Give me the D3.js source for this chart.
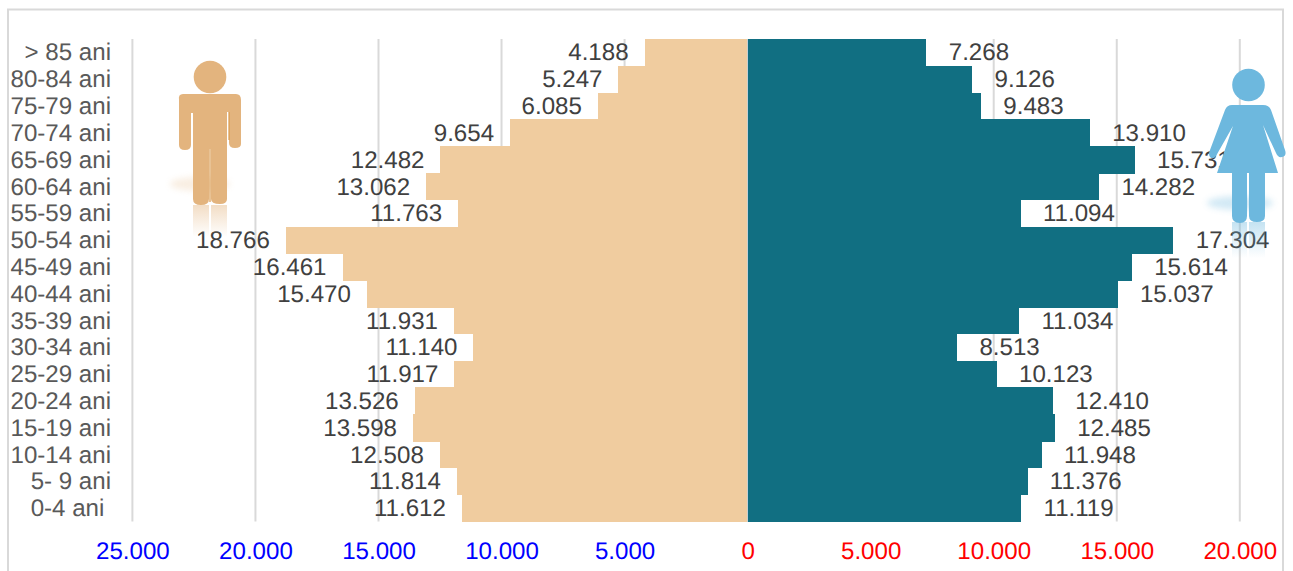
<!DOCTYPE html>
<html>
<head>
<meta charset="utf-8">
<script src="https://cdn.jsdelivr.net/npm/d3@7"></script>
<style>
html, body { margin: 0; padding: 0; background: #fff; overflow: hidden; }
text { font-family: "Liberation Sans", Arial, sans-serif; white-space: pre; text-rendering: geometricPrecision; }
</style>
</head>
<body>
<div id="chart"></div>
<script>
const ageGroups = ["> 85 ani", "80-84 ani", "75-79 ani", "70-74 ani", "65-69 ani", "60-64 ani",
  "55-59 ani", "50-54 ani", "45-49 ani", "40-44 ani", "35-39 ani", "30-34 ani", "25-29 ani",
  "20-24 ani", "15-19 ani", "10-14 ani", "5- 9 ani", "0-4 ani "];
const males = [4188, 5247, 6085, 9654, 12482, 13062, 11763, 18766, 16461, 15470, 11931, 11140,
  11917, 13526, 13598, 12508, 11814, 11612];
const females = [7268, 9126, 9483, 13910, 15731, 14282, 11094, 17304, 15614, 15037, 11034, 8513,
  10123, 12410, 12485, 11948, 11376, 11119];
const xTicks = [-25000, -20000, -15000, -10000, -5000, 0, 5000, 10000, 15000, 20000];

const width = 1293, height = 571;
const fontSize = 24.1;

const fmt = d3.formatLocale({ decimal: ",", thousands: ".", grouping: [3], currency: ["", ""] }).format(",d");

const svg = d3.select("#chart").append("svg")
  .attr("width", width)
  .attr("height", height)
  .style("display", "block");

const defs = svg.append("defs");
defs.append("filter").attr("id", "soft").attr("x", "-30%").attr("y", "-60%").attr("width", "160%").attr("height", "220%")
  .append("feGaussianBlur").attr("stdDeviation", 3);
let fade = (id, colour, op) => {
  const g = defs.append("linearGradient").attr("id", id).attr("x1", 0).attr("y1", 0).attr("x2", 0).attr("y2", 1);
  g.append("stop").attr("offset", 0).attr("stop-color", colour).attr("stop-opacity", op);
  g.append("stop").attr("offset", 1).attr("stop-color", colour).attr("stop-opacity", 0);
};
fade("fadeMan", "#e3b47e", 0.45);
fade("fadeWoman", "#6db8de", 0.4);

// outer frame, bottom edge runs off the picture
svg.append("rect")
  .attr("x", 8).attr("y", 9.5).attr("width", 1275).attr("height", 580)
  .attr("fill", "none").attr("stroke", "#d9d9d9").attr("stroke-width", 2);

const x = d3.scaleLinear().domain([-25000, 20000]).range([132.4, 1239.8]);
const y = d3.scaleBand().domain(ageGroups).range([39, 521.5]).padding(0);

// gridlines
svg.append("g").selectAll("line")
  .data(xTicks)
  .join("line")
  .attr("x1", d => x(d)).attr("x2", d => x(d))
  .attr("y1", 39).attr("y2", 521.5)
  .attr("stroke", "#d9d9d9").attr("stroke-width", 2);

// bars, crisp so neighbouring rows do not show a seam
svg.append("g").attr("shape-rendering", "crispEdges").selectAll("rect")
  .data(males)
  .join("rect")
  .attr("x", d => x(-d))
  .attr("y", (d, i) => y(ageGroups[i]))
  .attr("width", d => x(0) - x(-d))
  .attr("height", y.bandwidth() + 0.5)
  .attr("fill", "#f0cc9f");

svg.append("g").attr("shape-rendering", "crispEdges").selectAll("rect")
  .data(females)
  .join("rect")
  .attr("x", x(0))
  .attr("y", (d, i) => y(ageGroups[i]))
  .attr("width", d => x(d) - x(0))
  .attr("height", y.bandwidth() + 0.5)
  .attr("fill", "#116f82");

// zero line stays visible between the two sides
svg.append("line")
  .attr("x1", x(0)).attr("x2", x(0))
  .attr("y1", 39).attr("y2", 521.5)
  .attr("stroke", "#c9cfd2").attr("stroke-width", 1)
  .attr("shape-rendering", "crispEdges");

// value labels
svg.append("g").selectAll("text")
  .data(males)
  .join("text")
  .attr("x", d => x(-d) - 16)
  .attr("y", (d, i) => y(ageGroups[i]) + y.bandwidth() / 2 - 0.6)
  .attr("dy", "0.36em")
  .attr("text-anchor", "end")
  .attr("font-size", fontSize)
  .attr("fill", "#404040")
  .text(d => fmt(d));

svg.append("g").selectAll("text")
  .data(females)
  .join("text")
  .attr("x", d => x(d) + 22.3)
  .attr("y", (d, i) => y(ageGroups[i]) + y.bandwidth() / 2 - 0.6)
  .attr("dy", "0.36em")
  .attr("text-anchor", "start")
  .attr("font-size", fontSize)
  .attr("fill", "#404040")
  .text(d => fmt(d));

// age axis
const yAxis = svg.append("g")
  .attr("transform", "translate(118,-0.6)")
  .call(d3.axisLeft(y).tickSize(0).tickPadding(7));
yAxis.select(".domain").remove();
yAxis.selectAll("text")
  .attr("font-size", fontSize)
  .attr("fill", "#595959")
  .attr("dy", "0.36em");

// value axis, blue for men and red for women
const xAxis = svg.append("g")
  .attr("transform", "translate(0,550)")
  .call(d3.axisBottom(x).tickValues(xTicks).tickSize(0).tickPadding(0).tickFormat(d => fmt(Math.abs(d))));
xAxis.select(".domain").remove();
xAxis.selectAll("text")
  .attr("font-size", fontSize)
  .attr("y", 0)
  .attr("dy", "0.36em")
  .attr("fill", d => d < 0 ? "#0000ff" : "#ff0000");

// man pictogram
const man = svg.append("g");
man.append("ellipse").attr("cx", 200).attr("cy", 184).attr("rx", 30).attr("ry", 7)
  .attr("fill", "#e3b47e").attr("opacity", 0.22).attr("filter", "url(#soft)");
man.append("rect").attr("x", 193).attr("y", 205).attr("width", 16).attr("height", 32).attr("fill", "url(#fadeMan)");
man.append("rect").attr("x", 211).attr("y", 205).attr("width", 16).attr("height", 32).attr("fill", "url(#fadeMan)");
man.append("circle").attr("cx", 210).attr("cy", 77).attr("r", 16.3).attr("fill", "#e3b47e");
man.append("path")
  .attr("d", "M183,94 H236 Q241,94 241,100 V144 Q241,148 235,148 Q229,148 229,143 V112 H227 V199 Q227,204 220,204 Q211,204 211,199 V149 H209 V199 Q209,205 201,205 Q193,205 193,199 V113 H191 V145 Q191,150 185,150 Q179,150 179,145 V100 Q178,94 183,94 Z")
  .attr("fill", "#e3b47e");
man.append("path").attr("d", "M229,112 V140 M210,149 V202").attr("stroke", "#d99a4e").attr("stroke-width", 1.2).attr("fill", "none");

// woman pictogram, sits over the labels
const woman = svg.append("g");
woman.append("ellipse").attr("cx", 1240).attr("cy", 203).attr("rx", 33).attr("ry", 7)
  .attr("fill", "#6db8de").attr("opacity", 0.3).attr("filter", "url(#soft)");
woman.append("rect").attr("x", 1232).attr("y", 222).attr("width", 15).attr("height", 36).attr("fill", "url(#fadeWoman)");
woman.append("rect").attr("x", 1249).attr("y", 222).attr("width", 16).attr("height", 36).attr("fill", "url(#fadeWoman)");
woman.append("circle").attr("cx", 1248.5).attr("cy", 85).attr("r", 16.3).attr("fill", "#6db8de");
woman.append("path")
  .attr("d", "M1232,105 H1263 Q1269,105 1271,110 L1285,150 Q1287,156 1282,157 Q1278,158 1276,153 L1263,125 L1278,173 H1265 V216 Q1265,222 1257,222 Q1249,222 1249,216 V173 H1247 V216 Q1247,223 1240,223 Q1232,223 1232,216 V173 H1217 L1233,126 L1216,156 Q1213,160 1210,157 Q1208,154 1210,150 L1225,110 Q1227,105 1232,105 Z")
  .attr("fill", "#6db8de");
</script>
</body>
</html>
